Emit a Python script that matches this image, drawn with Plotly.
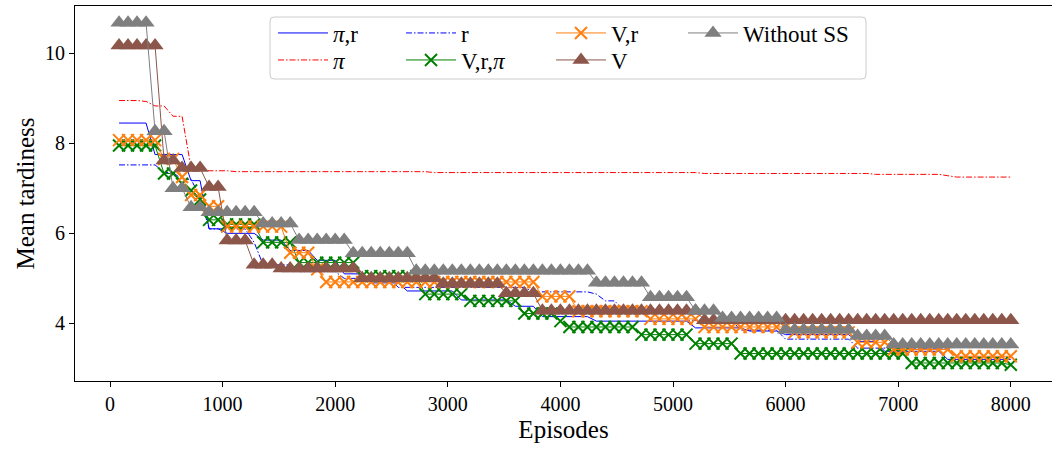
import plotly.graph_objects as go

# Episodes at which each curve was sampled (every 80 episodes)
episodes = list(range(80, 8001, 80))

pi_r = [8.45, 8.45, 8.45, 8.45, 7.75, 7.75, 7.75, 7.75, 7.17, 7.17,
        6.1, 6.1, 6.0, 6.0, 6.0, 6.0, 5.85, 5.85, 5.85, 5.62,
        5.62, 5.62, 5.4, 5.4, 5.4, 5.1, 5.1, 5.1, 4.9, 4.9,
        4.9, 4.9, 4.72, 4.72, 4.72, 4.72, 4.72, 4.72, 4.52, 4.52,
        4.52, 4.52, 4.52, 4.52, 4.38, 4.38, 4.38, 4.15, 4.15, 4.15,
        4.15, 4.15, 4.15, 4.05, 4.05, 4.05, 4.05, 4.05, 4.05, 4.05,
        4.05, 4.05, 4.05, 4.05, 3.9, 3.9, 3.9, 3.9, 3.9, 3.9,
        3.83, 3.83, 3.83, 3.83, 3.75, 3.75, 3.75, 3.75, 3.75, 3.75,
        3.75, 3.75, 3.6, 3.6, 3.6, 3.38, 3.38, 3.38, 3.38, 3.38,
        3.38, 3.38, 3.2, 3.2, 3.2, 3.2, 3.2, 3.2, 3.2, 3.2]

pi_only = [8.95, 8.95, 8.95, 8.93, 8.83, 8.83, 8.6, 8.6, 7.45, 7.42,
           7.39, 7.39, 7.39, 7.37, 7.37, 7.37, 7.37, 7.37, 7.37, 7.37,
           7.37, 7.37, 7.37, 7.37, 7.37, 7.37, 7.37, 7.37, 7.37, 7.37,
           7.37, 7.37, 7.37, 7.37, 7.37, 7.35, 7.35, 7.35, 7.35, 7.35,
           7.35, 7.35, 7.35, 7.35, 7.35, 7.35, 7.35, 7.35, 7.35, 7.35,
           7.35, 7.35, 7.35, 7.35, 7.35, 7.35, 7.35, 7.35, 7.35, 7.35,
           7.35, 7.35, 7.35, 7.35, 7.35, 7.33, 7.33, 7.33, 7.33, 7.33,
           7.33, 7.33, 7.33, 7.33, 7.33, 7.33, 7.33, 7.33, 7.33, 7.33,
           7.33, 7.33, 7.33, 7.33, 7.31, 7.31, 7.31, 7.31, 7.31, 7.31,
           7.31, 7.31, 7.28, 7.25, 7.25, 7.25, 7.25, 7.25, 7.25, 7.25]

r_only = [7.52, 7.52, 7.52, 7.52, 7.52, 7.35, 7.35, 7.2, 7.2, 6.8,
          6.1, 6.1, 6.1, 6.1, 6.1, 5.8, 5.3, 5.3, 5.3, 5.3,
          5.15, 5.15, 5.15, 5.15, 5.15, 5.0, 5.0, 5.0, 5.0, 5.0,
          5.0, 4.8, 4.8, 4.8, 4.8, 4.8, 4.8, 4.8, 4.8, 4.8,
          4.8, 4.8, 4.8, 4.8, 4.8, 4.8, 4.7, 4.7, 4.7, 4.7,
          4.7, 4.7, 4.7, 4.65, 4.5, 4.5, 4.3, 4.3, 4.3, 4.3,
          4.3, 4.3, 4.3, 4.07, 4.07, 4.07, 4.07, 4.07, 4.07, 3.85,
          3.85, 3.85, 3.85, 3.85, 3.65, 3.65, 3.65, 3.65, 3.65, 3.65,
          3.65, 3.65, 3.45, 3.45, 3.45, 3.45, 3.45, 3.45, 3.45, 3.45,
          3.45, 3.45, 3.45, 3.25, 3.25, 3.25, 3.25, 3.25, 3.25, 3.25]

v_r_pi = [7.95, 7.95, 7.95, 7.95, 7.95, 7.33, 7.33, 7.1, 6.95, 6.75,
          6.3, 6.3, 6.2, 6.2, 6.2, 6.2, 5.8, 5.8, 5.8, 5.8,
          5.35, 5.35, 5.35, 5.35, 5.35, 5.35, 5.35, 5.05, 5.05, 5.05,
          5.05, 5.05, 5.05, 5.05, 4.65, 4.65, 4.65, 4.65, 4.65, 4.5,
          4.5, 4.5, 4.5, 4.5, 4.5, 4.22, 4.22, 4.22, 4.22, 4.05,
          3.92, 3.92, 3.92, 3.92, 3.92, 3.92, 3.92, 3.92, 3.75, 3.75,
          3.75, 3.75, 3.75, 3.75, 3.55, 3.55, 3.55, 3.55, 3.55, 3.33,
          3.33, 3.33, 3.33, 3.33, 3.33, 3.33, 3.33, 3.33, 3.33, 3.33,
          3.33, 3.33, 3.33, 3.33, 3.33, 3.33, 3.33, 3.33, 3.12, 3.12,
          3.12, 3.12, 3.12, 3.12, 3.12, 3.12, 3.12, 3.12, 3.12, 3.08]

v_r = [8.07, 8.07, 8.07, 8.07, 8.07, 7.65, 7.65, 7.25, 6.85, 6.85,
       6.6, 6.6, 6.15, 6.15, 6.15, 6.15, 6.15, 6.15, 6.15, 5.57,
       5.57, 5.57, 5.2, 4.92, 4.92, 4.92, 4.92, 4.92, 4.92, 4.92,
       4.92, 4.92, 4.92, 4.92, 4.92, 4.92, 4.92, 4.92, 4.92, 4.92,
       4.92, 4.92, 4.92, 4.92, 4.92, 4.92, 4.92, 4.6, 4.6, 4.6,
       4.6, 4.27, 4.27, 4.27, 4.27, 4.27, 4.27, 4.27, 4.27, 4.1,
       4.1, 4.1, 4.1, 4.1, 4.1, 3.92, 3.92, 3.92, 3.92, 3.92,
       3.92, 3.92, 3.92, 3.92, 3.92, 3.8, 3.8, 3.8, 3.8, 3.8,
       3.8, 3.8, 3.58, 3.58, 3.58, 3.58, 3.42, 3.42, 3.42, 3.42,
       3.42, 3.42, 3.42, 3.27, 3.27, 3.27, 3.27, 3.27, 3.27, 3.27]

v_only = [10.17, 10.17, 10.17, 10.17, 10.17, 7.62, 7.62, 7.45, 7.45, 7.45,
          7.03, 7.03, 5.84, 5.84, 5.84, 5.3, 5.3, 5.3, 5.22, 5.22,
          5.22, 5.22, 5.22, 5.22, 5.22, 5.22, 5.22, 5.0, 5.0, 5.0,
          5.0, 5.0, 5.0, 5.0, 5.0, 5.0, 4.88, 4.88, 4.88, 4.88,
          4.88, 4.88, 4.88, 4.67, 4.67, 4.67, 4.67, 4.28, 4.28, 4.28,
          4.28, 4.28, 4.28, 4.28, 4.28, 4.28, 4.28, 4.28, 4.28, 4.28,
          4.28, 4.28, 4.28, 4.28, 4.28, 4.07, 4.07, 4.07, 4.07, 4.07,
          4.07, 4.07, 4.07, 4.07, 4.07, 4.07, 4.07, 4.07, 4.07, 4.07,
          4.07, 4.07, 4.07, 4.07, 4.07, 4.07, 4.07, 4.07, 4.07, 4.07,
          4.07, 4.07, 4.07, 4.07, 4.07, 4.07, 4.07, 4.07, 4.07, 4.07]

without_ss = [10.68, 10.68, 10.68, 10.68, 8.27, 8.27, 7.0, 7.0, 6.58, 6.58,
              6.47, 6.47, 6.47, 6.47, 6.47, 6.47, 6.22, 6.22, 6.22, 6.22,
              5.85, 5.85, 5.85, 5.85, 5.85, 5.85, 5.56, 5.56, 5.56, 5.56,
              5.56, 5.56, 5.56, 5.17, 5.17, 5.17, 5.17, 5.17, 5.17, 5.17,
              5.17, 5.17, 5.17, 5.17, 5.17, 5.17, 5.17, 5.17, 5.17, 5.17,
              5.17, 5.17, 5.17, 4.9, 4.9, 4.9, 4.9, 4.9, 4.9, 4.58,
              4.58, 4.58, 4.58, 4.58, 4.28, 4.28, 4.28, 4.12, 4.12, 4.12,
              4.12, 4.12, 4.12, 4.12, 3.86, 3.86, 3.86, 3.86, 3.86, 3.86,
              3.86, 3.86, 3.72, 3.72, 3.72, 3.72, 3.53, 3.53, 3.53, 3.53,
              3.53, 3.53, 3.53, 3.53, 3.53, 3.53, 3.53, 3.53, 3.53, 3.53]

x_ticks = [0, 1000, 2000, 3000, 4000, 5000, 6000, 7000, 8000]
y_ticks = [4, 6, 8, 10]

FONT = "Liberation Serif"
DASHDOT = "6px,2px,1.5px,2px"

fig = go.Figure()

fig.add_trace(go.Scatter(x=episodes, y=pi_r, mode="lines", name="<i>π</i>,r",
                         line=dict(color="#0000ff", width=1), legend="legend"))
fig.add_trace(go.Scatter(x=episodes, y=pi_only, mode="lines", name="<i>π</i>",
                         line=dict(color="#ff0000", width=1, dash=DASHDOT), legend="legend2"))
fig.add_trace(go.Scatter(x=episodes, y=r_only, mode="lines", name="r",
                         line=dict(color="#0000ff", width=1, dash=DASHDOT), legend="legend3"))
fig.add_trace(go.Scatter(x=episodes, y=v_r_pi, mode="lines+markers", name="V,r,<i>π</i>",
                         line=dict(color="#008000", width=1),
                         marker=dict(symbol="x-thin", size=12, line=dict(color="#008000", width=2)),
                         legend="legend4"))
fig.add_trace(go.Scatter(x=episodes, y=v_r, mode="lines+markers", name="V,r",
                         line=dict(color="#ff7f0e", width=1),
                         marker=dict(symbol="x-thin", size=12, line=dict(color="#ff7f0e", width=2)),
                         legend="legend5"))
fig.add_trace(go.Scatter(x=episodes, y=v_only, mode="lines+markers", name="V",
                         line=dict(color="#8c564b", width=1),
                         marker=dict(symbol="triangle-up", size=15, color="#8c564b"),
                         legend="legend6"))
fig.add_trace(go.Scatter(x=episodes, y=without_ss, mode="lines+markers", name="Without SS",
                         line=dict(color="#7f7f7f", width=1),
                         marker=dict(symbol="triangle-up", size=15, color="#7f7f7f"),
                         legend="legend7"))

L, R, T, B = 75, 0, 6, 69
W, H = 1052, 450
PW, PH = W - L - R, H - T - B


def px_x(p):
    return (p - L) / PW


def px_y(p):
    return (H - B - p) / PH


legend_pos = {
    "legend": (278, 33), "legend2": (278, 60),
    "legend3": (406, 33), "legend4": (406, 60),
    "legend5": (556, 33), "legend6": (556, 60),
    "legend7": (688, 33),
}
legend_layout = {}
for key, (lx, ly) in legend_pos.items():
    legend_layout[key] = dict(
        x=px_x(lx - 5), y=px_y(ly), xanchor="left", yanchor="middle",
        bgcolor="rgba(0,0,0,0)", borderwidth=0, itemwidth=50,
        font=dict(family=FONT, size=23, color="black"),
    )

# legend frame
x0, x1 = px_x(270), px_x(866)
y0, y1 = px_y(79), px_y(17)
rx, ry = 4 / PW, 4 / PH
path = (f"M{x0+rx},{y0} L{x1-rx},{y0} Q{x1},{y0} {x1},{y0+ry} "
        f"L{x1},{y1-ry} Q{x1},{y1} {x1-rx},{y1} L{x0+rx},{y1} "
        f"Q{x0},{y1} {x0},{y1-ry} L{x0},{y0+ry} Q{x0},{y0} {x0+rx},{y0} Z")

fig.update_layout(
    width=W, height=H,
    margin=dict(l=L, r=R, t=T, b=B),
    paper_bgcolor="white", plot_bgcolor="white",
    font=dict(family=FONT, color="black"),
    showlegend=True,
    shapes=[dict(type="path", path=path, xref="paper", yref="paper",
                 line=dict(color="#cccccc", width=1),
                 fillcolor="rgba(255,255,255,0.8)", layer="above")],
    **legend_layout,
)

fig.update_xaxes(
    range=[-311, 8366], tickvals=x_ticks, ticktext=[str(v) for v in x_ticks],
    showgrid=False, zeroline=False,
    showline=True, linecolor="black", linewidth=1.2, mirror=True,
    ticks="outside", ticklen=5, tickwidth=1, tickcolor="black",
    tickfont=dict(family=FONT, size=20, color="black"),
    title=dict(text="Episodes", font=dict(family=FONT, size=25, color="black"), standoff=6),
)
fig.update_yaxes(
    range=[2.72, 11.05], tickvals=y_ticks, ticktext=[str(v) for v in y_ticks],
    showgrid=False, zeroline=False,
    showline=True, linecolor="black", linewidth=1.2, mirror=False,
    ticks="outside", ticklen=5, tickwidth=1, tickcolor="black",
    tickfont=dict(family=FONT, size=20, color="black"),
    title=dict(text="Mean tardiness", font=dict(family=FONT, size=25, color="black"), standoff=3),
)

fig.write_html("out.html")
